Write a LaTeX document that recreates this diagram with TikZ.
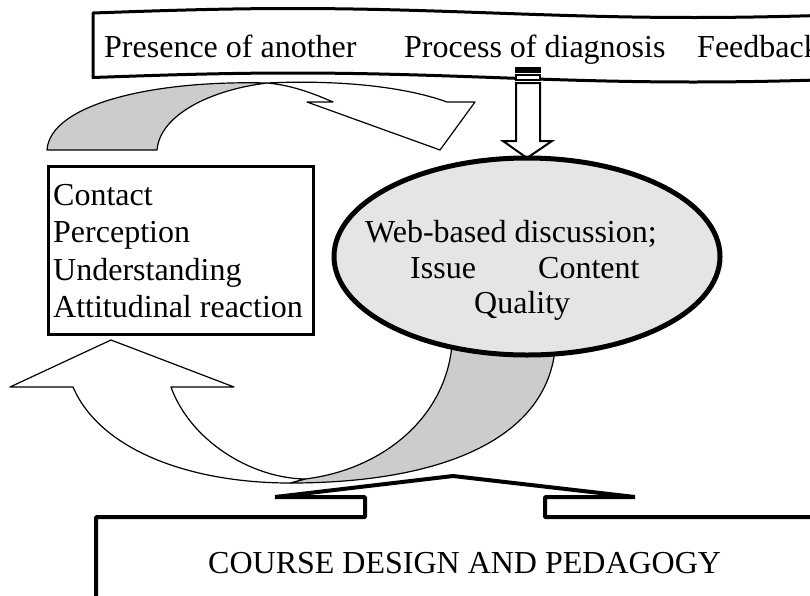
\documentclass[tikz,border=0pt]{standalone}
\usepackage{fontspec}
\setmainfont{Liberation Serif}
\usetikzlibrary{shapes.geometric}
\tikzset{
  lbl/.style={font=\fontsize{32}{38}\selectfont, inner sep=0pt, anchor=base west},
  ribbon/.style={draw=black, line width=1.2pt, line join=round},
  backside/.style={ribbon, fill=black!20},
  frontside/.style={ribbon, fill=white},
  bandline/.style={draw=black, line width=3pt, fill=white, line join=round},
  stripearrow/.style={draw=black, line width=2pt, fill=white, line join=miter},
  callout/.style={draw=black, line width=4pt, line join=bevel},
}
\begin{document}
\begin{tikzpicture}[x=1pt,y=-1pt]
\useasboundingbox (0,0) rectangle (810,595);
\clip (0,0) rectangle (810,595);

% upper curved arrow (gray back side, white front side)
\path[backside] (47,150) .. controls (50,105) and (150,80) .. (267,83)
   .. controls (210,90) and (160,115) .. (157,150) -- cycle;
\path[frontside] (267,83) .. controls (330,80) and (400,85) .. (447,102)
   -- (475,102) -- (440,150) -- (307,102) -- (333,102)
   .. controls (310,92) and (290,85) .. (267,83) -- cycle;

% wavy banner
\path[bandline] plot[domain=93:815,samples=80] (\x,{13-4.5*sin(0.45*(\x-93))})
   -- plot[domain=815:93,samples=80] (\x,{77.5-4.5*sin(0.45*(\x-93))}) -- cycle;

% striped down arrow
\path[stripearrow, fill=black] (516,68) rectangle (540,72);
\path[stripearrow] (516,75) rectangle (540,80);
\path[stripearrow] (516,83) -- (516,141) -- (503,141) -- (527,158) -- (552,141)
   -- (540,141) -- (540,83) -- cycle;

% lower curved arrow
\path[backside] (305,479) .. controls (380,470) and (445,420) .. (452,345)
   -- (555,350) .. controls (545,440) and (440,483) .. (290,483) -- cycle;
\path[frontside] (171,387) -- (234,387) -- (111,340) -- (10,387) -- (73,387)
   .. controls (100,450) and (190,483) .. (290,483) -- (305,479)
   .. controls (250,478) and (190,440) .. (171,387) -- cycle;

% discussion ellipse
\node[ellipse, draw, line width=5pt, fill=black!10, minimum width=386pt,
      minimum height=197pt, inner sep=0pt] (disc) at (527,256.5) {};

% reaction box
\node[draw, line width=3pt, minimum width=265pt, minimum height=168pt,
      anchor=north west, inner sep=0pt] (box) at (47,165) {};

% course design callout
\path[callout] (96,600) -- (96,517) -- (365,517) -- (365,497) -- (275,497)
   -- (453,476) -- (635,497) -- (545,497) -- (545,517) -- (815,517);

% texts
\node[lbl] (pres) at (104,57) {Presence of another};
\node[lbl] (proc) at (404,57) {Process of diagnosis};
\node[lbl] (feed) at (697,57) {Feedback};
\node[lbl] (c1) at (53,205) {Contact};
\node[lbl] (c2) at (53,242.5) {Perception};
\node[lbl] (c3) at (53,280) {Understanding};
\node[lbl] (c4) at (53,317.5) {Attitudinal reaction};
\node[lbl] (web) at (365,242) {Web-based discussion;};
\node[lbl] (iss) at (410,278) {Issue};
\node[lbl] (cont) at (538,278) {Content};
\node[lbl] (qual) at (474,313) {Quality};
\node[lbl] (course) at (208,573) {COURSE DESIGN AND PEDAGOGY};
\end{tikzpicture}
\end{document}
